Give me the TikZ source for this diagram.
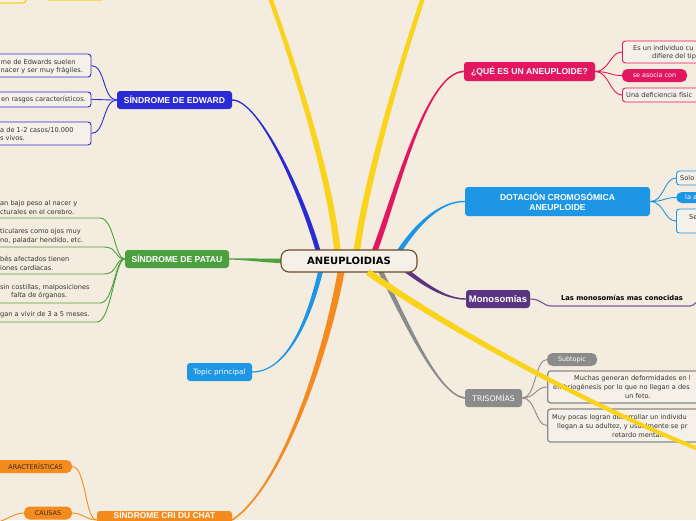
\documentclass[tikz,border=0pt]{standalone}
\usepackage{fontspec}
\setmainfont{DejaVu Sans}
\newfontfamily\arialf{Liberation Sans}
\usetikzlibrary{calc}
\pgfdeclarelayer{back}\pgfdeclarelayer{bg}\pgfdeclarelayer{fg}
\pgfsetlayers{back,bg,main,fg}
\definecolor{bgc}{HTML}{F3ECDF}
\definecolor{boxc}{HTML}{F6F1E8}
\definecolor{yel}{HTML}{F9D31C}
\definecolor{edwc}{HTML}{2B2BD6}
\definecolor{patc}{HTML}{4CA040}
\definecolor{orc}{HTML}{F58B1F}
\definecolor{tpc}{HTML}{1E96E6}
\definecolor{quec}{HTML}{E3175F}
\definecolor{monc}{HTML}{5A3480}
\definecolor{monl}{HTML}{7D5C9C}
\definecolor{tric}{HTML}{8B8B8B}
\definecolor{cenb}{HTML}{6E4A25}
\definecolor{txt}{HTML}{333333}
\definecolor{dk}{HTML}{3A2A1A}
% tapered branch: colour, root, c1, c2, tip, half width at root, half width at tip
\newcommand{\branch}[7]{%
  \fill[#1] ($(#2)!#6!90:(#3)$) .. controls ($(#3)!#6!-90:(#2)$) and ($(#4)!#7!90:(#5)$) .. ($(#5)!#7!-90:(#4)$)
    -- ($(#5)!#7!90:(#4)$) .. controls ($(#4)!#7!-90:(#5)$) and ($(#3)!#6!90:(#2)$) .. ($(#2)!#6!-90:(#3)$) -- cycle;}
\tikzset{
  hd/.style={rounded corners=3pt, inner sep=0pt, text=white, align=center,
    font=\arialf\bfseries\fontsize{8.6}{10.5}\selectfont},
  hdr/.style={rounded corners=3pt, inner sep=0pt, text=white, align=center,
    font=\fontsize{7.3}{8.5}\selectfont},
  cent/.style={rounded corners=8pt, draw=cenb, line width=1.1pt, fill=boxc, inner sep=0pt,
    minimum width=136pt, minimum height=22pt, font=\bfseries\fontsize{10}{11}\selectfont},
  cbox/.style={rounded corners=3pt, fill=boxc, line width=0.9pt, inner sep=0pt},
  pill/.style={rounded corners=5.5pt, inner sep=0pt, font=\fontsize{6.4}{8}\selectfont},
  ctext/.style={inner sep=0pt, text=txt, align=left, font=\fontsize{6.6}{8.6}\selectfont},
  conn/.style={line width=0.9pt},
}
\begin{document}
\begin{tikzpicture}[x=1pt,y=-1pt]
\useasboundingbox (0,0) rectangle (696,520);
\begin{pgfonlayer}{back}
\fill[bgc] (0,0) rectangle (696,520);
\end{pgfonlayer}

% ---------- central
\node[cent] (c) at (349,261) {ANEUPLOIDIAS};

% ---------- top yellow (cut)
\node[cbox, draw=yel, line width=1.2pt, minimum width=40pt, minimum height=20pt] (y1) at (6,-7) {};
\node[fill=yel, rounded corners=3pt, minimum width=60pt, minimum height=20pt, inner sep=0pt] (y2) at (75,-9.5) {};
\coordinate (ytl) at (268,-8);
\coordinate (ytr) at (425,-8);
\coordinate (yd) at (706,452);

% ---------- Edward
\node[hd, fill=edwc, minimum width=115pt, minimum height=18pt] (edw) at (174.5,100) {SÍNDROME DE EDWARD};
\node[cbox, draw=edwc, minimum width=140pt, minimum height=23pt] (e1) at (21,65.5) {};
\node[ctext, anchor=west] (e1t) at (0.5,66.5) {me de Edwards suelen\\nacer y ser muy frágiles.};
\node[cbox, draw=edwc, minimum width=140pt, minimum height=15pt] (e2) at (21,99.5) {};
\node[ctext, anchor=east] (e2t) at (86,99.5) {en rasgos característicos.};
\node[cbox, draw=edwc, minimum width=140pt, minimum height=23pt] (e3) at (21,133.5) {};
\node[ctext, anchor=west] (e3t) at (0,134) {a de 1-2 casos/10.000\\s vivos.};
\foreach \k in {e1,e2,e3}
  \draw[conn, edwc] (edw.west) .. controls +(-14,0) and +(14,0) .. (\k.east);

% ---------- Patau
\node[hd, fill=patc, minimum width=104pt, minimum height=18pt] (pat) at (177,259) {SÍNDROME DE PATAU};
\node[ctext, anchor=west] (p1) at (0,207.5) {an bajo peso al nacer y\\cturales en el cerebro.};
\node[ctext, anchor=west] (p2) at (0,236) {ticulares como ojos muy\\no, paladar hendido, etc.};
\node[ctext, anchor=west] (p3) at (0,263.5) {bés afectados tienen\\iones cardiacas.};
\node[ctext, anchor=west] (p4) at (0,291.5) {sin costillas, malposiciones\\\hspace*{11pt}falta de órganos.};
\node[ctext, anchor=west] (p5) at (0,315) {gan a vivir de 3 a 5 meses.};
\coordinate (p1s) at (-5,218); \coordinate (p1e) at (100,218);
\coordinate (p2s) at (-5,247); \coordinate (p2e) at (104,247);
\coordinate (p3s) at (-5,274); \coordinate (p3e) at (104,274);
\coordinate (p4s) at (-5,303); \coordinate (p4e) at (100,303);
\coordinate (p5s) at (-5,322); \coordinate (p5e) at (97,322);
\foreach \k in {1,...,5}
  \draw[conn, patc] (p\k s) -- (p\k e) .. controls +(14,0) and +(-10,0) .. (pat.west);

% ---------- Cri du chat
\node[hd, fill=orc, minimum width=135pt, minimum height=18pt] (cri) at (164.5,520) {};
\node[inner sep=0pt, text=white, font=\arialf\bfseries\fontsize{8.4}{10}\selectfont] (crit) at (164.5,515) {SÍNDROME CRI DU CHAT};
\node[pill, fill=orc, minimum width=82pt, minimum height=13pt] (car) at (31,466.5) {};
\node[inner sep=0pt, text=dk, font=\fontsize{6.4}{8}\selectfont, anchor=east] (cart) at (63,466.5) {ARACTERÍSTICAS};
\node[pill, fill=orc, minimum width=48pt, minimum height=13pt, text=dk] (cau) at (48,513) {CAUSAS};
\coordinate (caux) at (-4,522);
\draw[conn, orc] (car.east) .. controls +(14,0) and +(-12,0) .. (cri.west);
\draw[conn, orc] (cau.east) .. controls +(10,0) and +(-10,0) .. (cri.west);
\draw[conn, orc] (cau.west) .. controls +(-10,0) and +(8,0) .. (caux);

% ---------- Topic principal
\node[hdr, fill=tpc, minimum width=65pt, minimum height=18pt] (tp) at (219.5,372) {Topic principal};

% ---------- Que es
\node[hd, fill=quec, minimum width=131pt, minimum height=19pt] (que) at (529.5,71.5) {¿QUÉ ES UN ANEUPLOIDE?};
\node[cbox, draw=quec, minimum width=120pt, minimum height=22pt, anchor=west] (q1) at (622,52) {};
\node[ctext, anchor=west] (q1t) at (633,52.5) {Es un individuo cu\\\hspace*{19pt}difiere del tip};
\node[pill, fill=quec, text=white, minimum width=65pt, minimum height=13pt] (q2) at (654.5,75.5) {se asocia con};
\node[cbox, draw=quec, minimum width=120pt, minimum height=14pt, anchor=west] (q3) at (622,95) {};
\node[ctext, anchor=west] (q3t) at (626,95) {Una deficiencia físic};
\foreach \k in {q1,q2,q3}
  \draw[conn, quec] (que.east) .. controls +(14,0) and +(-12,0) .. (\k.west);

% ---------- Dotacion
\node[hd, fill=tpc, minimum width=185pt, minimum height=29pt] (dot) at (557.5,201.5) {DOTACIÓN CROMOSÓMICA\\ANEUPLOIDE};
\node[cbox, draw=tpc, minimum width=60pt, minimum height=14pt, anchor=west] (d1) at (676,178) {};
\node[ctext, anchor=west] (d1t) at (680,178) {Solo};
\node[pill, fill=tpc, minimum width=60pt, minimum height=11pt, anchor=west] (d2) at (676,197.5) {};
\node[ctext, text=white, anchor=west] (d2t) at (685,197.5) {la a};
\node[cbox, draw=tpc, minimum width=60pt, minimum height=24pt, anchor=west] (d3) at (676,221) {};
\node[ctext, anchor=west] (d3t) at (689,217) {Se};
\foreach \k in {d1,d2,d3}
  \draw[conn, tpc] (dot.east) .. controls +(14,0) and +(-12,0) .. (\k.west);

% ---------- Monosomias
\node[hd, fill=monc, font=\arialf\bfseries\fontsize{9.5}{11}\selectfont, minimum width=64pt, minimum height=18pt] (mono) at (498,299) {Monosomías};
\node[inner sep=0pt, font=\bfseries\fontsize{6.8}{8}\selectfont] (mt) at (622,297.5) {Las monosomías mas conocidas};
\coordinate (m1) at (552,306); \coordinate (m2) at (690,306); \coordinate (m3) at (700,301);
\draw[monl, line width=1.2pt] (mono.east) .. controls +(12,0) and +(-10,0) .. (m1) -- (m2) .. controls +(4,0) and +(-4,0) .. (m3);

% ---------- Trisomias
\node[hdr, fill=tric, font=\fontsize{7.7}{9}\selectfont, minimum width=57pt, minimum height=18pt] (tri) at (493.5,398) {TRISOMÍAS};
\node[pill, fill=tric, text=white, minimum width=50pt, minimum height=13pt] (t1) at (572,359.5) {Subtopic};
\node[cbox, draw=tric, line width=1.3pt, minimum width=190pt, minimum height=32pt, anchor=west] (t2) at (547,387) {};
\node[ctext, anchor=west] (t2a) at (574,379) {Muchas generan deformidades en l};
\node[ctext, anchor=west] (t2b) at (553,387.5) {embriogénesis por lo que no llegan a des};
\node[ctext, anchor=west] (t2c) at (625,396) {un feto.};
\node[cbox, draw=tric, line width=1.3pt, minimum width=190pt, minimum height=33pt, anchor=west] (t3) at (547,425.5) {};
\node[ctext, anchor=west] (t3a) at (552,418) {Muy pocas logran desarrollar un individu};
\node[ctext, anchor=west] (t3b) at (557,426.5) {llegan a su adultez, y usualmente se pr};
\node[ctext, anchor=west] (t3c) at (612,435) {retardo mental.};
\foreach \k in {t1,t2,t3}
  \draw[conn, tric] (tri.east) .. controls +(14,0) and +(-12,0) .. (\k.west);

% ---------- main branches
\begin{pgfonlayer}{bg}
\branch{yel}{338,258}{333,190}{300,80}{ytl}{3.2pt}{2.2pt}
\branch{yel}{356,258}{362,200}{395,80}{ytr}{3.2pt}{2.2pt}
\branch{edwc}{320,258}{305,200}{260,100}{edw.east}{2.4pt}{0.7pt}
\branch{patc}{292,261}{270,261}{245,259}{pat.east}{2.4pt}{0.6pt}
\branch{orc}{342,266}{330,340}{285,485}{cri.east}{3.4pt}{0.8pt}
\branch{tpc}{322,265}{312,310}{290,372}{tp.east}{2.4pt}{0.6pt}
\branch{quec}{372,258}{395,200}{425,72}{que.west}{2.8pt}{0.8pt}
\branch{tpc}{395,258}{415,225}{440,201}{dot.west}{2.4pt}{0.7pt}
\branch{monc}{400,266}{425,285}{445,299}{mono.west}{2.2pt}{0.7pt}
\branch{tric}{378,266}{405,320}{438,395}{tri.west}{2.4pt}{0.8pt}
\end{pgfonlayer}
\begin{pgfonlayer}{fg}
\branch{yel}{368,272}{405,300}{560,395}{yd}{3.2pt}{2pt}
\end{pgfonlayer}
\end{tikzpicture}
\end{document}
